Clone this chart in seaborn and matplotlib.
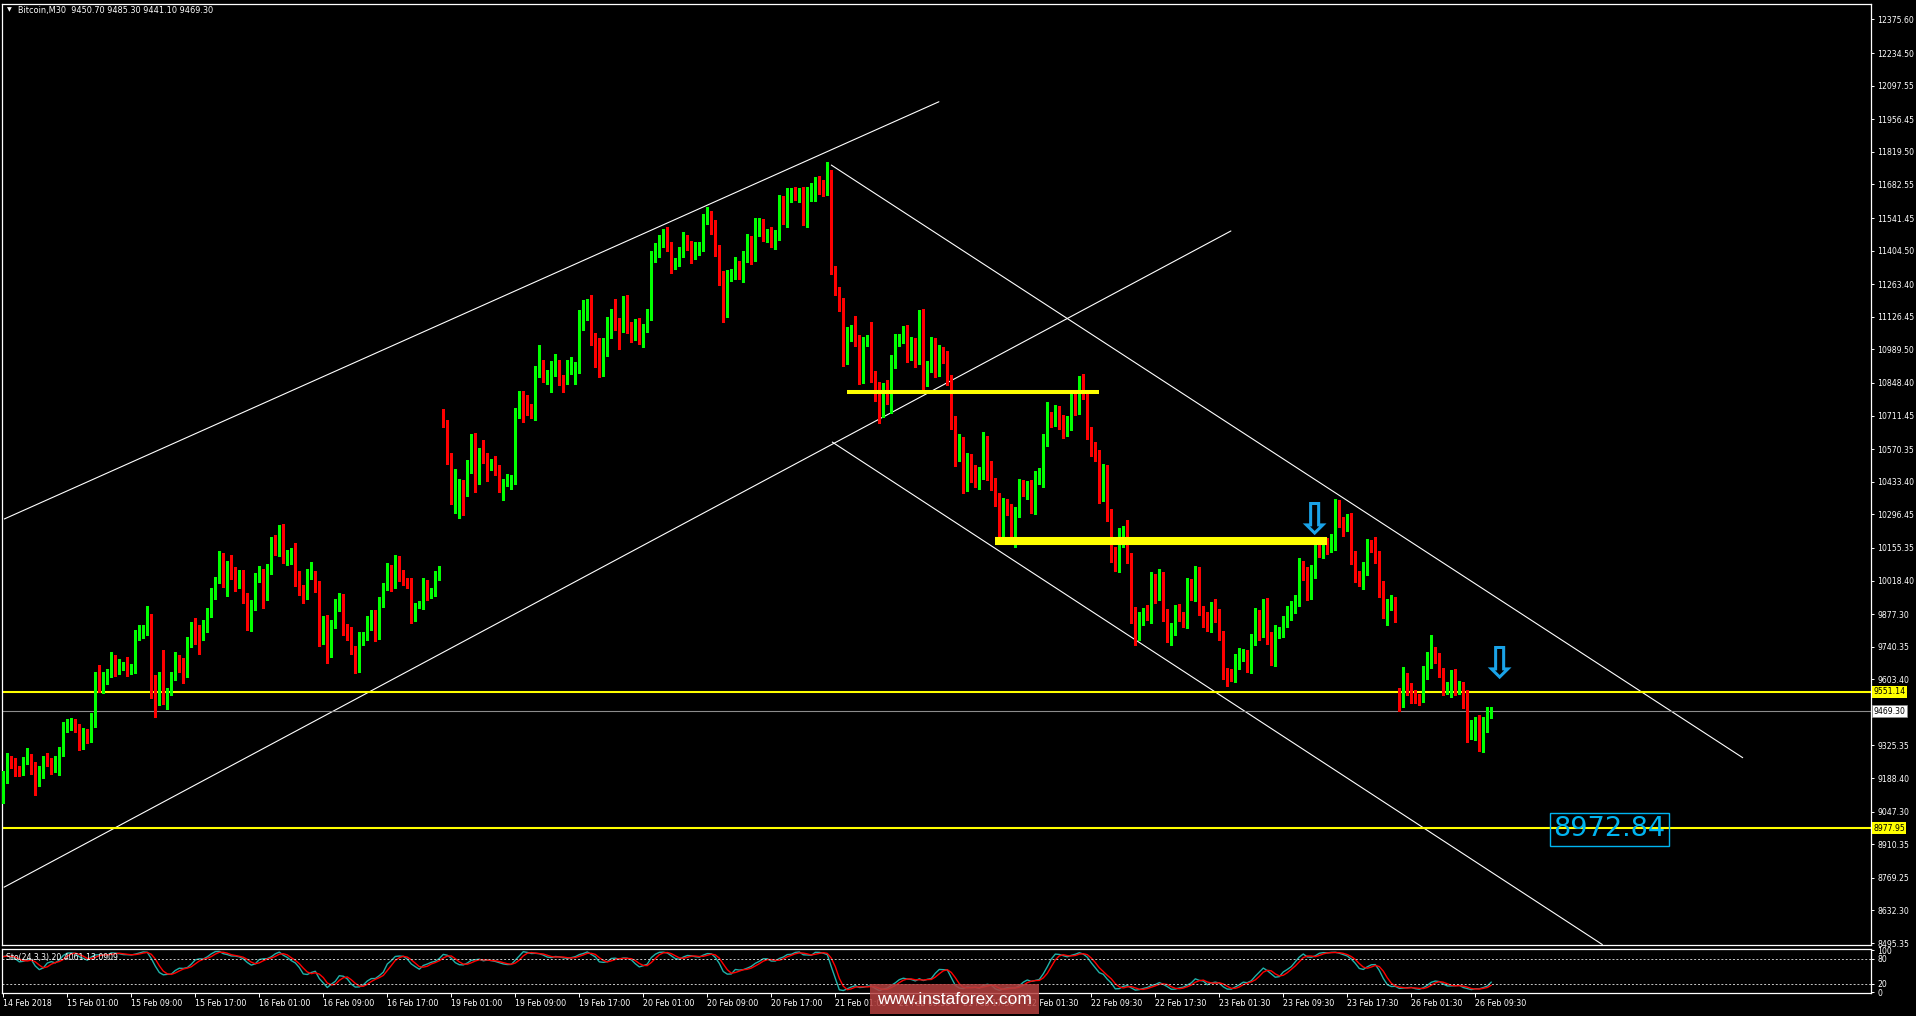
import numpy as np
import pandas as pd
import matplotlib
matplotlib.use("Agg")
import matplotlib.pyplot as plt
import matplotlib.transforms as mtransforms
from matplotlib.patches import Rectangle
import seaborn as sns

# ---- Bitcoin M30 : closes (one per bar) ----
closes = [
    9196, 9268, 9252, 9231, 9222, 9261, 9268, 9240, 9173, 9209,
    9268, 9252, 9232, 9247, 9306, 9403, 9407, 9420, 9405, 9327,
    9379, 9360, 9425, 9604, 9566, 9608, 9630, 9697, 9646, 9657,
    9659, 9642, 9649, 9785, 9800, 9806, 9866, 9571, 9516, 9612,
    9525, 9551, 9622, 9686, 9659, 9627, 9760, 9831, 9812, 9799,
    9827, 9886, 9965, 10024, 10118, 10013, 10079, 10051, 10009, 10034,
    9950, 9831, 9915, 10026, 10045, 9957, 10059, 10193, 10147, 10235,
    10113, 10113, 10130, 10042, 9979, 9957, 10045, 10045, 9997, 9770,
    9850, 9715, 9836, 9911, 9948, 9815, 9799, 9730, 9656, 9773,
    9784, 9831, 9881, 9786, 9928, 9994, 10065, 10000, 10105, 10037,
    10014, 10007, 9867, 9916, 9918, 10000, 9967, 9979, 10037, 10063,
    10677, 10534, 10362, 10365, 10424, 10394, 10500, 10618, 10451, 10550,
    10534, 10497, 10512, 10483, 10417, 10432, 10445, 10445, 10718, 10794,
    10766, 10743, 10732, 10899, 10928, 10864, 10874, 10899, 10924, 10868,
    10866, 10903, 10907, 10911, 11130, 11138, 11180, 11039, 11011, 10903,
    11022, 11071, 11141, 11092, 11082, 11190, 11085, 11047, 11092, 11029,
    11082, 11138, 11375, 11393, 11449, 11470, 11421, 11351, 11358, 11393,
    11452, 11428, 11383, 11410, 11421, 11533, 11558, 11494, 11407, 11302,
    11155, 11297, 11309, 11344, 11302, 11376, 11446, 11382, 11481, 11516,
    11470, 11480, 11438, 11470, 11610, 11533, 11634, 11646, 11638, 11652,
    11537, 11633, 11652, 11698, 11673, 11659, 11718, 11320, 11236, 11176,
    10949, 11050, 11071, 11025, 10874, 11022, 11036, 10874, 10798, 10735,
    10830, 10784, 10952, 11029, 11036, 11064, 10966, 11001, 10952, 11133,
    10854, 10910, 11018, 10899, 10973, 10961, 10865, 10690, 10541, 10601,
    10420, 10525, 10462, 10430, 10476, 10612, 10497, 10430, 10357, 10241,
    10340, 10322, 10205, 10312, 10420, 10402, 10420, 10326, 10445, 10466,
    10605, 10707, 10693, 10731, 10690, 10644, 10679, 10787, 10738, 10852,
    10795, 10637, 10570, 10541, 10378, 10487, 10287, 10125, 10083, 10200,
    10226, 10116, 9873, 9793, 9863, 9884, 9873, 10020, 9962, 10036,
    9874, 9778, 9825, 9886, 9867, 9850, 10004, 9958, 10049, 9890,
    9855, 9825, 9914, 9878, 9790, 9629, 9622, 9615, 9678, 9699,
    9710, 9659, 9769, 9874, 9804, 9916, 9783, 9685, 9797, 9804,
    9853, 9888, 9902, 9937, 10074, 10042, 9965, 10065, 10158, 10136,
    10164, 10158, 10182, 10336, 10269, 10245, 10269, 10116, 10037, 10014,
    10065, 10168, 10158, 10116, 9986, 9883, 9920, 9923, 9874, 9509,
    9610, 9561, 9537, 9528, 9526, 9629, 9682, 9720, 9692, 9636,
    9561, 9561, 9623, 9561, 9575, 9512, 9383, 9393, 9425, 9327,
    9400, 9453, 9469.3,
]

# wick lengths above / below the body (price units)
upper_wick = [
    20, 25, 15, 20, 10, 15, 45, 20, 15, 30,
    15, 25, 20, 35, 15, 20, 30, 20, 15, 10,
    20, 15, 35, 30, 60, 25, 15, 20, 10, 30,
    15, 40, 20, 25, 30, 25, 45, 10, 50, 20,
    115, 15, 10, 30, 20, 35, 20, 15, 30, 20,
    25, 15, 20, 10, 25, 15, 20, 45, 25, 30,
    30, 15, 20, 25, 35, 20, 30, 10, 15, 15,
    20, 35, 25, 45, 15, 20, 20, 50, 15, 20,
    20, 25, 15, 30, 20, 15, 20, 25, 15, 30,
    20, 40, 15, 15, 20, 15, 25, 20, 20, 15,
    25, 15, 20, 10, 15, 30, 20, 10, 20, 15,
    # 19 Feb
    10, 15, 20, 120, 20, 15, 25, 15, 20, 25,
    60, 20, 15, 30, 20, 15, 20, 15, 25, 20,
    20, 30, 15, 20, 80, 15, 30, 40, 45, 20,
    15, 40, 50, 25, 25, 60, 20, 40, 20, 25,
    15, 55, 20, 60, 30, 25, 30,
    20, 25, 30, 15, 20, 30, 45, 20, 25, 35,
    20, 15, 25, 30, 20, 15, 30, 20, 25, 30,
    15, 40, 20, 15, 25, 20, 35, 15, 25, 30,
    20, 60, 25, 20, 15, 25, 20, 30, 25, 35,
    20, 25, 15, 20, 40, 35, 15, 20, 30, 60,
    25, 20, 15, 30, 35, 20, 60, 25, 20, 15,
    70, 25, 55, 20, 30, 15, 25,
    20, 25, 30, 40, 35, 20, 25, 30, 25, 20,
    35, 25, 20, 15, 20, 35, 20, 30, 25, 40,
    20, 30, 15, 25, 20, 30, 25, 20, 20, 15,
    25, 20, 15, 20, 35, 25, 30, 60, 20, 25,
    20, 25, 30, 20, 30, 25, 35, 15, 25, 30,
    25, 20, 15, 30, 35, 40, 20, 45, 20, 35,
    25, 20, 30, 35, 25, 30,
    20, 25, 15, 30, 35, 20, 25, 20, 30, 25,
    20, 30, 15, 25, 20, 15, 20, 25, 30, 35,
    20, 15, 25, 30, 20, 25, 30, 20, 35, 20,
    15, 25, 30, 20, 40, 25, 35, 20, 30, 25,
    20, 35, 30, 25, 20, 15, 30, 35, 25, 20,
    30, 25, 20, 45, 25, 30, 20, 35, 25,
    # 26 Feb
    20, 45, 20, 25, 20, 15, 30, 35, 70, 20,
    20, 15, 30, 20, 25, 20, 15, 45, 40, 20,
    30, 45, 35, 16,
]
lower_wick = [
    25, 30, 20, 35, 25, 20, 15, 35, 55, 20,
    20, 15, 25, 20, 45, 25, 20, 15, 25, 20,
    15, 25, 20, 20, 15, 20, 25, 15, 30, 20,
    15, 25, 15, 20, 15, 25, 15, 45, 70, 20,
    25, 45, 15, 20, 25, 40, 15, 20, 60, 90,
    30, 25, 20, 25, 15, 20, 60, 25, 35, 20,
    25, 20, 25, 20, 15, 55, 20, 15, 20, 25,
    20, 30, 25, 45, 20, 35, 15, 20, 25, 25,
    20, 45, 20, 15, 20, 25, 30, 20, 25, 20,
    25, 15, 20, 20, 15, 20, 15, 25, 15, 20,
    15, 20, 25, 20, 15, 20, 30, 20, 25, 15,
    # 19 Feb
    15, 25, 20, 60, 85, 100, 20, 30, 60, 25,
    20, 60, 15, 20, 25, 60, 15, 40, 20, 15,
    80, 30, 30, 40, 25, 10, 20, 65, 20, 30,
    55, 20, 15, 65, 20, 60, 25, 30, 95, 30,
    25, 60, 35, 20, 90, 20, 25,
    25, 20, 15, 30, 20, 25, 20, 15, 30, 20,
    40, 25, 20, 15, 20, 30, 15, 25, 20, 15,
    20, 25, 40, 50, 30, 20, 25, 15, 30, 20,
    35, 20, 15, 25, 30, 20, 25, 20, 15, 30,
    25, 20, 30, 25, 35, 20, 40, 30, 25, 20,
    15, 20, 25, 30, 20, 25, 20, 30, 25, 20,
    20, 25, 55, 30, 25, 60, 40,
    25, 20, 30, 20, 35, 25, 30, 20, 15, 25,
    20, 30, 25, 35, 40, 20, 35, 25, 30, 20,
    25, 30, 55, 30, 25, 40, 35, 30, 20, 45,
    25, 30, 40, 25, 30, 20, 55, 20, 30, 25,
    35, 25, 20, 30, 25, 20, 15, 25, 30, 20,
    35, 25, 20, 30, 25, 30, 40, 25, 35, 45,
    25, 30, 20, 35, 40, 25,
    25, 20, 30, 35, 20, 25, 30, 20, 25, 15,
    30, 20, 25, 35, 20, 25, 45, 20, 25, 30,
    20, 25, 30, 20, 35, 25, 30, 20, 25, 20,
    25, 30, 35, 20, 25, 20, 30, 25, 35, 20,
    25, 30, 20, 35, 25, 40, 20, 30, 25, 20,
    30, 25, 20, 25, 35, 20, 50, 25, 30,
    # 26 Feb
    40, 20, 25, 35, 25, 30, 20, 25, 30, 20,
    25, 25, 20, 30, 25, 20, 30, 45, 30, 45,
    25, 30, 20, 9.6,
]

first_open = 9110
gap_open_bars = [110, 349, 372]          # session opens after weekend gaps
gap_open_prices = [10728, 9547, 9450.7]

date_labels = ["14 Feb 2018", "15 Feb 01:00", "15 Feb 09:00", "15 Feb 17:00",
               "16 Feb 01:00", "16 Feb 09:00", "16 Feb 17:00", "19 Feb 01:00",
               "19 Feb 09:00", "19 Feb 17:00", "20 Feb 01:00", "20 Feb 09:00",
               "20 Feb 17:00", "21 Feb 01:00", "21 Feb 09:30", "21 Feb 17:30",
               "22 Feb 01:30", "22 Feb 09:30", "22 Feb 17:30", "23 Feb 01:30",
               "23 Feb 09:30", "23 Feb 17:30", "26 Feb 01:30", "26 Feb 09:30"]

price_ticks = [12375.60, 12234.50, 12097.55, 11956.45, 11819.50, 11682.55,
               11541.45, 11404.50, 11263.40, 11126.45, 10989.50, 10848.40,
               10711.45, 10570.35, 10433.40, 10296.45, 10155.35, 10018.40,
               9877.30, 9740.35, 9603.40, 9325.35, 9188.40, 9047.30, 8910.35,
               8769.25, 8632.30, 8495.35]

levels = [9551.14, 8977.95]
bid_price = 9469.30

# drawn objects: thick support zones, trend lines, arrows, target
zone_start = [211, 248]
zone_end = [274, 331]
zone_price = [10810, 10184]

trend_x0 = [0.25, 0.2, 207, 207.25]
trend_y0 = [10277, 8730, 11764, 10600]
trend_x1 = [233.9, 306.9, 434.85, 399.75]
trend_y1 = [12030, 11487, 9274, 8489]

arrow_bars = [327.6, 373.9]
arrow_prices = [10268, 9661]

target_bar = 401.5
target_price = 8972.84

# ---- build OHLC ----
n = len(closes)
bars = np.arange(n)
c = np.array(closes, dtype=float)
o = np.concatenate([[first_open], c[:-1]])
for b, p in zip(gap_open_bars, gap_open_prices):
    o[b] = p
h = np.maximum(o, c) + np.array(upper_wick, dtype=float)
l = np.minimum(o, c) - np.array(lower_wick, dtype=float)

# Stochastic 24,3,3
df = pd.DataFrame({"h": h, "l": l, "c": c})
ll = df["l"].rolling(24, min_periods=1).min()
hh = df["h"].rolling(24, min_periods=1).max()
num = (df["c"] - ll).rolling(3, min_periods=1).sum()
den = (hh - ll).rolling(3, min_periods=1).sum()
sto_main = 100 * num / den
sto_signal = sto_main.rolling(3, min_periods=1).mean()

# ---- style ----
sns.set_theme(style="dark", rc={"axes.facecolor": "black", "figure.facecolor": "black",
                                 "axes.edgecolor": "white", "text.color": "white",
                                 "xtick.color": "white", "ytick.color": "white"})
plt.rcParams["font.family"] = ["DejaVu Sans"]

W, H = 1916, 1016
fig = plt.figure(figsize=(W / 100, H / 100), dpi=100)
ax = fig.add_axes([2 / W, 1 - 945 / H, (1871 - 2) / W, (945 - 4) / H])
ax2 = fig.add_axes([2 / W, 1 - 992.5 / H, (1871 - 2) / W, 44 / H])

xmin = -0.325
xmax = xmin + (1871 - 2) / 4
for a in (ax, ax2):
    a.set_facecolor("black")
    a.set_xlim(xmin, xmax)
    a.grid(False)
    for s in a.spines.values():
        s.set_color("white")
        s.set_linewidth(0.9)

ax.set_ylim(8487.0, 12440.7)

# candles
up = c >= o
cols = np.where(up, "#00ff00", "#ff0000")
ax.vlines(bars, l, h, colors=cols, linewidth=0.75, antialiased=False, zorder=3)
body_bottom = np.minimum(o, c)
body_height = np.maximum(np.abs(c - o), 3)
ax.bar(bars, body_height, bottom=body_bottom, width=0.75, color=cols,
       linewidth=0, antialiased=False, zorder=4)

# trend lines
for x0, y0, x1, y1 in zip(trend_x0, trend_y0, trend_x1, trend_y1):
    ax.plot([x0, x1], [y0, y1], color="white", lw=0.8, zorder=2)

# horizontal levels
for lv in levels:
    ax.axhline(lv, color="#ffff00", lw=1.5, zorder=2)
ax.axhline(bid_price, color="#8c8c8c", lw=0.8, zorder=2)

# support zones
ax.hlines(zone_price, zone_start, zone_end, colors="#ffff00",
          linewidth=[2.9, 5.8], zorder=5)

# arrows
for xb, yp in zip(arrow_bars, arrow_prices):
    ax.text(xb, yp, "\u21e9", color="#1aa3e8", fontsize=32, fontweight="bold",
            ha="center", va="center", zorder=6)

# target label
ax.text(target_bar, target_price, "8972.84", color="#00b4f0", fontsize=19.5,
        ha="center", va="center", zorder=6,
        bbox=dict(boxstyle="square,pad=0.12", fc="none", ec="#00b4f0", lw=1))

# right price scale
ax.set_xticks([])
ax.set_yticks(price_ticks)
ax.set_yticklabels([f"{p:.2f}" for p in price_ticks])
ax.yaxis.tick_right()
ax.tick_params(axis="y", length=2.5, width=0.7, pad=2, labelsize=5.6,
               colors="white", right=True, left=False)

trans = mtransforms.blended_transform_factory(ax.transAxes, ax.transData)
for lv in levels:
    ax.text(1.0012, lv, f"{lv:.2f}", transform=trans, fontsize=5.6, color="black",
            ha="left", va="center", clip_on=False, zorder=7,
            bbox=dict(boxstyle="square,pad=0.18", fc="#ffff00", ec="none"))
ax.text(1.0012, bid_price, f"{bid_price:.2f}", transform=trans, fontsize=5.6,
        color="black", ha="left", va="center", clip_on=False, zorder=7,
        bbox=dict(boxstyle="square,pad=0.18", fc="white", ec="#8c8c8c", lw=0.5))

# stochastic panel
sns.lineplot(x=bars, y=sto_main.values, ax=ax2, color="#20b2aa", lw=1.0)
sns.lineplot(x=bars, y=sto_signal.values, ax=ax2, color="#ff0000", lw=1.0)
for lv in (80, 20):
    ax2.axhline(lv, color="#c8c8c8", lw=0.7, ls=(0, (2, 2)))
ax2.set_ylim(-1, 104)
ax2.set_ylabel("")
ax2.set_yticks([100, 80, 20, 0])
ax2.set_yticklabels(["100", "80", "20", "0"])
ax2.yaxis.tick_right()
ax2.tick_params(axis="y", length=2.5, width=0.7, pad=2, labelsize=5.6,
                colors="white", right=True, left=False)
ax2.text(0.002, 0.8, "Sto(24,3,3) 20.4061 13.0909", transform=ax2.transAxes,
         fontsize=5.6, color="white", ha="left", va="center")

ax2.set_xticks(np.arange(len(date_labels)) * 16)
ax2.set_xticklabels(date_labels, ha="left")
ax2.tick_params(axis="x", length=3, width=0.7, pad=2, labelsize=5.7,
                colors="white", bottom=True)

# header
fig.text(7 / W, 1 - 10 / H, "\u25bc", fontsize=4.5, color="white", va="center")
fig.text(18 / W, 1 - 10 / H, "Bitcoin,M30  9450.70 9485.30 9441.10 9469.30",
         fontsize=5.9, color="white", va="center")

# watermark (drawn over the date labels, as on the original)
fig.patches.append(Rectangle((870 / W, 1 - 1014 / H), 169 / W, 30 / H,
                             transform=fig.transFigure, fc="#b5403f", alpha=0.85,
                             ec="none", zorder=10))
fig.text(954.5 / W, 1 - 999 / H, "www.instaforex.com", fontsize=12.5,
         family=["Liberation Sans", "DejaVu Sans"], color="white",
         ha="center", va="center", zorder=11)

fig.savefig("out.png", dpi=100, facecolor="black")
